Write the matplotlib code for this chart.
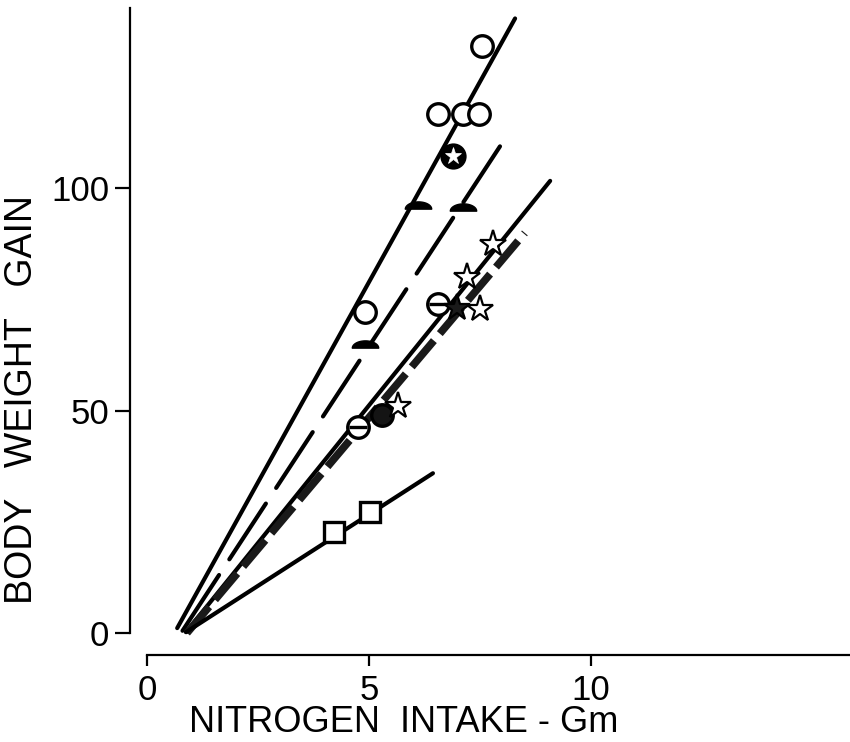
import numpy as np
import matplotlib
matplotlib.use("Agg")
import matplotlib.pyplot as plt
from matplotlib.path import Path

# ---------------- data ----------------
# regression lines (x0, y0) -> (x1, y1)
line_steep_x = [0.68, 8.29]
line_steep_y = [1.1, 138.1]
line_dash_x = [0.80, 8.13]
line_dash_y = [0.5, 112.1]
line_mid_x = [0.88, 9.08]
line_mid_y = [0.2, 101.6]
line_thick_x = [0.90, 8.51]
line_thick_y = [0.0, 89.9]
line_low_x = [0.88, 6.44]
line_low_y = [0.2, 35.9]

open_circle_x = [7.55, 6.55, 7.12, 7.48, 4.91]
open_circle_y = [132.0, 116.6, 116.6, 116.6, 72.2]
star_circle_x = [6.89]
star_circle_y = [107.2]
dome_x = [6.10, 7.12, 4.91]
dome_y = [96.0, 95.5, 64.8]
bar_circle_x = [6.55, 4.75]
bar_circle_y = [74.0, 46.2]
filled_circle_x = [5.29]
filled_circle_y = [48.9]
open_star_x = [7.79, 7.21, 7.50, 5.65]
open_star_y = [87.4, 80.0, 72.9, 51.1]
filled_star_x = [6.98]
filled_star_y = [73.1]
square_x = [4.21, 5.02]
square_y = [22.6, 27.1]

xticks = [0, 5, 10]
xtick_labels = ["0", "5", "10"]
yticks = [0, 50, 100]
ytick_labels = ["0", "50", "100"]
xlabel = "NITROGEN  INTAKE - Gm"
ylabel = "BODY   WEIGHT   GAIN"

# ---------------- figure ----------------
FONT = ["Liberation Sans Narrow", "Liberation Sans", "DejaVu Sans"]
plt.rcParams["font.family"] = FONT

W, H = 850, 742
fig = plt.figure(figsize=(W / 100, H / 100), dpi=100)

# pixel calibration: x=0 -> 147px, x=10 -> 591px ; y=0 -> 633px, y=100 -> 188px
px_per_x = 44.4
px_per_y = 4.45
ax_left_px, ax_right_px = 130, 850
ax_top_px, ax_bot_px = 8, 655
ax = fig.add_axes([ax_left_px / W, 1 - ax_bot_px / H,
                   (ax_right_px - ax_left_px) / W, (ax_bot_px - ax_top_px) / H])
xmin = (ax_left_px - 147) / px_per_x
xmax = (ax_right_px - 147) / px_per_x
ymin = (633 - ax_bot_px) / px_per_y
ymax = (633 - ax_top_px) / px_per_y
ax.set_xlim(xmin, xmax)
ax.set_ylim(ymin, ymax)

for s in ["top", "right"]:
    ax.spines[s].set_visible(False)
ax.spines["left"].set_bounds(0, ymax)
ax.spines["bottom"].set_bounds(0, xmax)
for s in ["left", "bottom"]:
    ax.spines[s].set_linewidth(1.6)

ax.set_xticks(xticks)
ax.set_xticklabels(xtick_labels)
ax.set_yticks(yticks)
ax.set_yticklabels(ytick_labels)
ax.tick_params(axis="y", direction="out", length=11, width=1.6, labelsize=25, pad=4)
ax.tick_params(axis="x", direction="out", length=8, width=1.6, labelsize=25, pad=6)

ax.set_xlabel(xlabel, fontsize=26)
ax.set_ylabel(ylabel, fontsize=27)
ax.xaxis.label.set_verticalalignment("baseline")
ax_w = ax_right_px - ax_left_px
ax_h = ax_bot_px - ax_top_px
ax.xaxis.set_label_coords((404 - ax_left_px) / ax_w, -(732 - ax_bot_px) / ax_h)
ax.yaxis.set_label_coords(-(ax_left_px - 40) / ax_w, (ax_bot_px - 400) / ax_h)

lw = 3.0
ax.plot(line_steep_x, line_steep_y, color="black", lw=lw, solid_capstyle="round", zorder=2)
ax.plot(line_dash_x, line_dash_y, color="black", lw=lw, dashes=(16, 4.5),
        dash_capstyle="round", zorder=2)
ax.plot(line_mid_x, line_mid_y, color="black", lw=lw, solid_capstyle="round", zorder=2)
ax.plot(line_thick_x, line_thick_y, color="#1a1a1a", lw=5.5, dashes=(4.5, 1.2), zorder=2)
ax.plot(line_low_x, line_low_y, color="black", lw=lw, solid_capstyle="round", zorder=2)

ms = 15.5
mew = 2.4
kw = dict(linestyle="none", zorder=4)
ax.plot(open_circle_x, open_circle_y, marker="o", ms=ms, mfc="white", mec="black", mew=mew, **kw)
ax.plot(star_circle_x, star_circle_y, marker="o", ms=ms + 1, mfc="black", mec="black", mew=mew, **kw)
ax.plot(star_circle_x, star_circle_y, marker="*", ms=ms - 3, mfc="white", mec="white", mew=0.5, zorder=5, linestyle="none")

# filled dome (upper semicircle) marker
theta = np.linspace(0, np.pi, 30)
dome_verts = np.column_stack([np.cos(theta), 0.55 * np.sin(theta) - 0.2])
dome_verts = np.vstack([dome_verts, dome_verts[:1]])
dome_codes = [Path.MOVETO] + [Path.LINETO] * (len(dome_verts) - 2) + [Path.CLOSEPOLY]
dome_marker = Path(dome_verts, dome_codes)
ax.plot(dome_x, dome_y, marker=dome_marker, ms=19, mfc="black", mec="black", mew=1, **kw)

# circle with horizontal bar
ax.plot(bar_circle_x, bar_circle_y, marker="o", ms=ms, mfc="white", mec="black", mew=mew, **kw)
ax.plot(bar_circle_x, bar_circle_y, marker="_", ms=ms - 3, mec="black", mew=2.4, zorder=5, linestyle="none")

ax.plot(filled_circle_x, filled_circle_y, marker="o", ms=ms, mfc="#141414", mec="black", mew=mew, **kw)
ax.plot(open_star_x, open_star_y, marker="*", ms=20, mfc="white", mec="black", mew=1.6, **kw)
ax.plot(filled_star_x, filled_star_y, marker="*", ms=20, mfc="#1a1a1a", mec="black", mew=1.6, **kw)
ax.plot(square_x, square_y, marker="s", ms=14, mfc="white", mec="black", mew=mew, **kw)

fig.savefig("out.png", dpi=100, facecolor="white")
